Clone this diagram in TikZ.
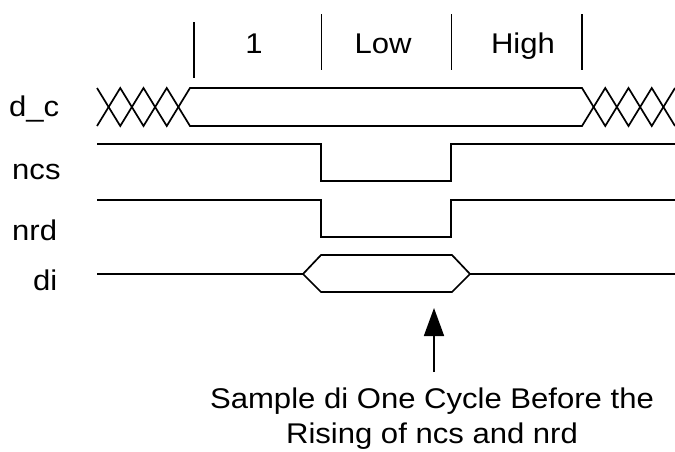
\documentclass[tikz,border=0pt]{standalone}
\usepackage{fontspec}
\setmainfont{Liberation Sans}[FakeStretch=1.09]
\usetikzlibrary{arrows.meta}
\begin{document}
\begin{tikzpicture}[x=1pt,y=-1pt,
  sig/.style={draw=black, line width=1.7pt, line join=miter},
  tick/.style={draw=black, line width=1.7pt},
  lbl/.style={font=\fontsize{28.5}{35}\selectfont, inner sep=0pt},
  note/.style={font=\fontsize{28.5}{35}\selectfont, inner sep=0pt, align=center},
  sampling/.style={draw=black, line width=1.7pt, -{Triangle[length=28pt,width=20pt]}}]
\useasboundingbox[fill=white] (0,0) rectangle (675,451);
% clock-cycle ticks
\draw[tick] (194,22) -- (194,78);
\draw[tick] (321.5,14) -- (321.5,70);
\draw[tick] (451.5,14) -- (451.5,70);
\draw[tick] (582,14) -- (582,70);
% cycle labels
\node[lbl, anchor=base] (c1) at (254,53) {1};
\node[lbl, anchor=base] (clow) at (383,53) {Low};
\node[lbl, anchor=base] (chigh) at (523,53) {High};
% signal names
\node[lbl, anchor=base west] (ldc) at (9,116.5) {d\_c};
\node[lbl, anchor=base west] (lncs) at (12,179) {ncs};
\node[lbl, anchor=base west] (lnrd) at (12,240.5) {nrd};
\node[lbl, anchor=base west] (ldi) at (33,290) {di};
% d_c bus
\draw[sig] (97,88) -- (120.25,126) -- (143.5,88) -- (166.75,126) -- (190,88)
  -- (582,88) -- (605.25,126) -- (628.5,88) -- (651.75,126) -- (675,88);
\draw[sig] (97,126) -- (120.25,88) -- (143.5,126) -- (166.75,88) -- (190,126)
  -- (582,126) -- (605.25,88) -- (628.5,126) -- (651.75,88) -- (675,126);
% ncs
\draw[sig] (97,144) -- (321,144) -- (321,181) -- (451,181) -- (451,144) -- (675,144);
% nrd
\draw[sig] (97,200) -- (321,200) -- (321,237) -- (451,237) -- (451,200) -- (675,200);
% di
\draw[sig] (97,274) -- (303,274) -- (321,255) -- (452,255) -- (470,274) -- (675,274);
\draw[sig] (303,274) -- (321,292) -- (452,292) -- (470,274);
% note and arrow
\node[note, anchor=base] (note) at (432,443) {Sample di One Cycle Before the\\Rising of ncs and nrd};
\coordinate (tail) at (434,372);
\coordinate (tip) at (434,308);
\draw[sampling] (tail) -- (tip);
\end{tikzpicture}
\end{document}
